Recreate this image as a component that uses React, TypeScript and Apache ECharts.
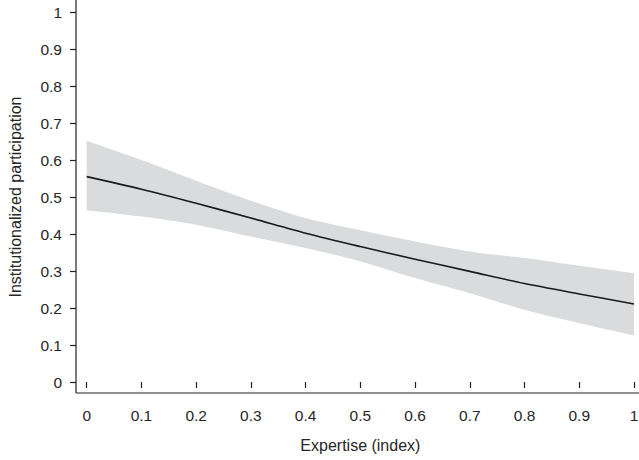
import React, { useEffect, useRef } from "react";
import * as echarts from "echarts";

const xValues = ["0", "0.1", "0.2", "0.3", "0.4", "0.5", "0.6", "0.7", "0.8", "0.9", "1"];
const fitValues = [0.555, 0.521, 0.483, 0.443, 0.402, 0.366, 0.332, 0.299, 0.266, 0.238, 0.211];
const upperValues = [0.652, 0.6, 0.544, 0.49, 0.443, 0.41, 0.38, 0.353, 0.335, 0.314, 0.294];
const lowerValues = [0.464, 0.447, 0.425, 0.393, 0.362, 0.326, 0.281, 0.24, 0.195, 0.159, 0.126];
const yTicks = [0, 0.1, 0.2, 0.3, 0.4, 0.5, 0.6, 0.7, 0.8, 0.9, 1];

const FONT = "'Liberation Sans', Arial, sans-serif";
const TXT = "#262626";

export default function App() {
  const ref = useRef<HTMLDivElement>(null);
  useEffect(() => {
    if (!ref.current) return;
    document.body.style.margin = "0";
    const chart = echarts.init(ref.current, undefined, { renderer: "svg" });
    const fmt = (v: number) => String(Math.round(v * 10) / 10);
    chart.setOption({
      animation: false,
      backgroundColor: "#ffffff",
      textStyle: { fontFamily: FONT },
      grid: { left: 86.7, right: 5, top: 12, bottom: 78, containLabel: false, outerBoundsMode: "none" },
      xAxis: {
        type: "category",
        data: xValues,
        boundaryGap: false,
        offset: 11,
        name: "Expertise (index)",
        nameLocation: "middle",
        nameGap: 44,
        nameTextStyle: { fontSize: 16, color: TXT, fontFamily: FONT },
        axisLine: { show: false },
        axisTick: { show: true, length: 6, interval: 0, lineStyle: { color: "#222", width: 1.2 } },
        axisLabel: { fontSize: 15.5, color: TXT, margin: 14, interval: 0, fontFamily: FONT },
        splitLine: { show: false },
      },
      yAxis: {
        type: "value",
        min: yTicks[0],
        max: yTicks[yTicks.length - 1],
        interval: 0.1,
        offset: 10.7,
        name: "Institutionalized participation",
        nameLocation: "middle",
        nameGap: 53,
        nameTextStyle: { fontSize: 16, color: TXT, fontFamily: FONT },
        axisLine: { show: false },
        axisTick: { show: true, length: 6, lineStyle: { color: "#222", width: 1.2 } },
        axisLabel: { fontSize: 15.5, color: TXT, margin: 14, fontFamily: FONT, formatter: fmt },
        splitLine: { show: false },
      },
      graphic: [
        { type: "line", shape: { x1: 76, y1: 0, x2: 76, y2: 393 }, style: { stroke: "#222", lineWidth: 1.2 } },
        { type: "line", shape: { x1: 76, y1: 393, x2: 639, y2: 393 }, style: { stroke: "#222", lineWidth: 1.2 } },
      ],
      series: [
        {
          type: "line",
          stack: "band",
          data: lowerValues,
          symbol: "none",
          smooth: 0.3,
          lineStyle: { opacity: 0 },
          silent: true,
        },
        {
          type: "line",
          stack: "band",
          data: upperValues.map((u, i) => u - lowerValues[i]),
          symbol: "none",
          smooth: 0.3,
          lineStyle: { opacity: 0 },
          areaStyle: { color: "#dadbdd", opacity: 1 },
          silent: true,
        },
        {
          type: "line",
          data: fitValues,
          symbol: "none",
          smooth: 0.3,
          lineStyle: { color: "#1a1a1a", width: 1.6 },
        },
      ],
    });
    return () => chart.dispose();
  }, []);
  return <div ref={ref} style={{ width: 639, height: 460 }} />;
}
